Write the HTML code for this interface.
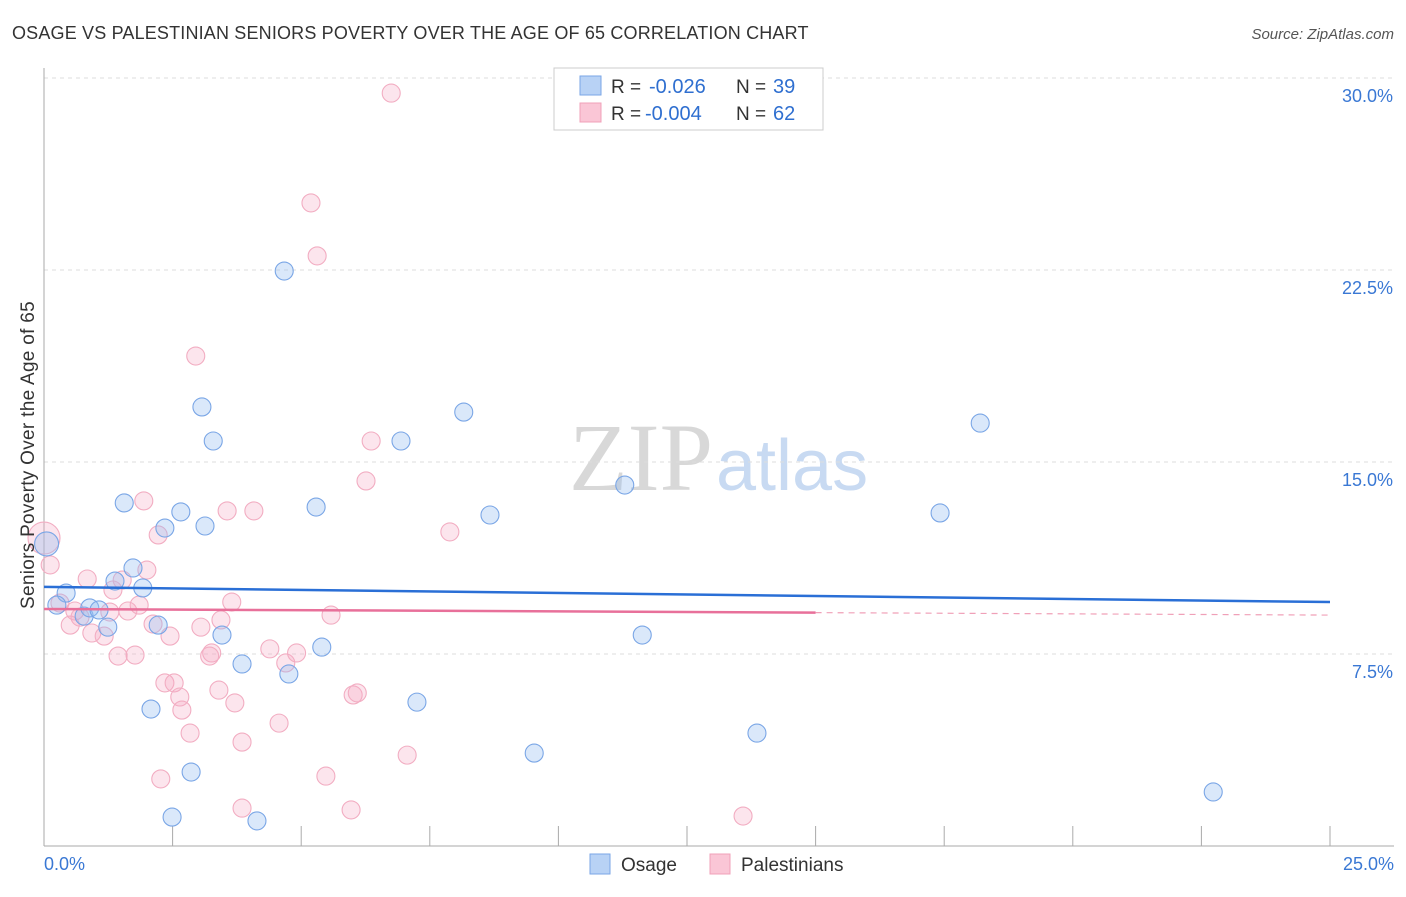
<!DOCTYPE html>
<html><head><meta charset="utf-8"><style>
body{margin:0;background:#fff;font-family:"Liberation Sans",sans-serif;}
</style></head><body>
<svg width="1406" height="892" xmlns="http://www.w3.org/2000/svg">
<text x="12" y="39" font-size="18" fill="#333" letter-spacing="0.17">OSAGE VS PALESTINIAN SENIORS POVERTY OVER THE AGE OF 65 CORRELATION CHART</text>
<text x="1394" y="39" font-size="15" fill="#555" font-style="italic" text-anchor="end">Source: ZipAtlas.com</text>
<text x="713" y="490" font-size="96" fill="#d8d8d8" font-family="Liberation Serif,serif" text-anchor="end">ZIP</text>
<text x="716" y="490" font-size="72" fill="#c8daf2">atlas</text>
<g id="grid"></g><g id="axes"></g><g id="pts"></g><g id="lines"></g>
<text transform="translate(34,455) rotate(-90)" font-size="19" fill="#333" letter-spacing="0.3" text-anchor="middle">Seniors Poverty Over the Age of 65</text>
<g>
<rect x="554" y="68" width="269" height="62" fill="#fff" stroke="#ccc"/>
<rect x="580" y="76" width="21" height="19" fill="#b8d2f5" stroke="#7aa6e6"/>
<rect x="580" y="103" width="21" height="19" fill="#fac6d6" stroke="#f0a0b8"/>
<text x="611" y="93" font-size="19" fill="#333">R =</text>
<text x="649" y="93" font-size="20" fill="#2f6fd0">-0.026</text>
<text x="736" y="93" font-size="19" fill="#333">N =</text>
<text x="773" y="93" font-size="20" fill="#2f6fd0">39</text>
<text x="611" y="120" font-size="19" fill="#333">R =</text>
<text x="645" y="120" font-size="20" fill="#2f6fd0">-0.004</text>
<text x="736" y="120" font-size="19" fill="#333">N =</text>
<text x="773" y="120" font-size="20" fill="#2f6fd0">62</text>
</g>
<g>
<rect x="590" y="854" width="20" height="20" fill="#b8d2f5" stroke="#7aa6e6"/>
<text x="621" y="871" font-size="19" fill="#333">Osage</text>
<rect x="710" y="854" width="20" height="20" fill="#fac6d6" stroke="#f0a0b8"/>
<text x="741" y="871" font-size="19" fill="#333">Palestinians</text>
</g>
</svg>
<script>
const yTicks=[7.5,15,22.5,30];
const yTickLabels=["7.5%","15.0%","22.5%","30.0%"];
const xTicks=[0,2.5,5,7.5,10,12.5,15,17.5,20,22.5,25];
const osageX=[0.05,0.43,0.25,0.78,0.89,1.07,1.24,1.38,1.56,1.73,1.92,2.22,2.35,2.66,2.08,2.86,2.49,3.07,3.13,3.29,3.46,3.85,4.14,4.67,4.76,5.29,5.40,6.94,7.25,8.16,8.67,9.53,11.29,11.63,13.86,17.42,18.20,22.73];
const osageY=[11.8,9.88,9.41,8.98,9.30,9.22,8.55,10.35,13.40,10.86,10.08,8.63,12.42,13.05,5.35,2.89,1.13,17.15,12.50,15.82,8.24,7.11,0.98,22.46,6.72,13.24,7.77,15.82,5.62,16.95,12.93,3.63,14.10,8.24,4.41,13.01,16.52,2.11];
const palX=[0.0,0.12,0.31,0.51,0.60,0.84,0.70,0.93,1.17,1.28,1.34,1.44,1.52,1.63,1.77,1.85,1.94,2.00,2.12,2.22,2.45,2.35,2.53,2.64,2.68,2.27,2.84,2.95,3.05,3.26,3.22,3.40,3.44,3.56,3.65,3.71,3.85,3.85,4.08,4.39,4.57,4.70,4.91,5.19,5.31,5.48,5.58,5.97,6.01,6.09,6.26,6.36,6.75,7.06,7.89,13.59];
const palY=[12.03,10.98,9.49,8.63,9.18,10.43,8.94,8.32,8.20,9.14,10.00,7.42,10.39,9.18,7.46,9.41,13.48,10.78,8.67,12.15,8.20,6.37,6.37,5.82,5.31,2.62,4.41,19.14,8.55,7.54,7.42,6.09,8.83,13.09,9.53,5.59,4.06,1.48,13.09,7.70,4.80,7.15,7.54,25.12,23.05,2.73,9.02,1.41,5.90,5.98,14.26,15.82,29.41,3.55,12.27,1.17];
const osageTrend=[10.12,9.53];
const palTrend=[9.26,9.02];
const X=v=>44+v/25*1286, Y=v=>846-v*25.6;
const NS="http://www.w3.org/2000/svg";
function mk(p,t,a){const e=document.createElementNS(NS,t);for(const k in a)e.setAttribute(k,a[k]);document.getElementById(p).appendChild(e);return e;}
yTicks.forEach((v,i)=>{
 const l=mk('grid','line',{x1:44,x2:1394,y1:Y(v),y2:Y(v),stroke:'#ddd','stroke-dasharray':'4,4'});
 
 
 const t=mk('grid','text',{x:1393,y:Y(v)+24,'font-size':18,fill:'#3a78d4','text-anchor':'end'});
 t.textContent=yTickLabels[i];
 
 
});
let a=mk('axes','line',{x1:44,x2:44,y1:68,y2:846,stroke:'#aaa'});


a=mk('axes','line',{x1:44,x2:1394,y1:846,y2:846,stroke:'#aaa'});


xTicks.forEach(v=>{const t=mk('axes','line',{x1:X(v),x2:X(v),y1:826,y2:846,stroke:'#aaa'});
 
 });
let t=mk('axes','text',{x:44,y:870,'font-size':18,fill:'#3a78d4'});t.textContent='0.0%';


t=mk('axes','text',{x:1394,y:870,'font-size':18,fill:'#3a78d4','text-anchor':'end'});t.textContent='25.0%';


palX.forEach((x,i)=>{const c=mk('pts','circle',{cx:X(x),cy:Y(palY[i]),r:i==0?16:9,fill:'rgba(246,170,196,0.3)',stroke:'#f2adc2','stroke-width':1.1});
 
 });
osageX.forEach((x,i)=>{const c=mk('pts','circle',{cx:X(x),cy:Y(osageY[i]),r:i==0?12:9,fill:'rgba(150,190,240,0.35)',stroke:'#7aa6e6','stroke-width':1.1});
 
 });
let l=mk('lines','line',{x1:X(0),x2:X(25),y1:Y(osageTrend[0]),y2:Y(osageTrend[1]),stroke:'#2a6fd6','stroke-width':2.5});


const pm=palTrend[0]+(palTrend[1]-palTrend[0])*15/25;
l=mk('lines','line',{x1:X(0),x2:X(15),y1:Y(palTrend[0]),y2:Y(pm),stroke:'#e8709a','stroke-width':2.5});


l=mk('lines','line',{x1:X(15),x2:X(25),y1:Y(pm),y2:Y(palTrend[1]),stroke:'#f0a0b8','stroke-width':1.2,'stroke-dasharray':'6,5'});


</script>
</body></html>
